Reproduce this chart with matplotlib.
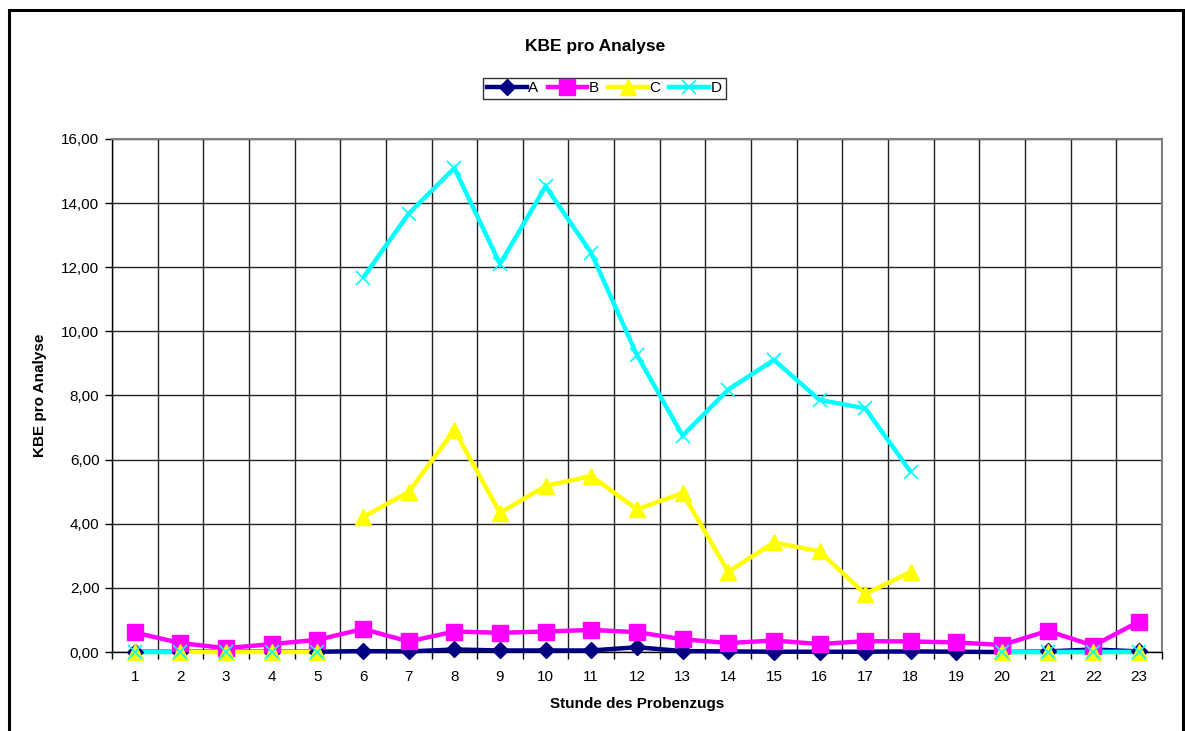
import numpy as np
import matplotlib.pyplot as plt
from matplotlib.patches import Rectangle

plt.rcParams['font.family'] = ['Liberation Sans', 'DejaVu Sans']

# Stunden 1..23, fehlende Werte als NaN
hours = list(range(1, 24))
nan = np.nan

A = [0.01, 0.01, 0.01, 0.01, 0.01, 0.03, 0.02, 0.08, 0.05, 0.05, 0.05, 0.15,
     0.03, 0.02, 0.01, 0.01, 0.01, 0.02, 0.01, 0.00, 0.02, 0.08, 0.02]
B = [0.61, 0.28, 0.12, 0.25, 0.38, 0.72, 0.33, 0.64, 0.60, 0.64, 0.69, 0.62,
     0.40, 0.28, 0.36, 0.25, 0.34, 0.33, 0.30, 0.22, 0.66, 0.20, 0.95]
C = [0.0, 0.0, 0.0, 0.0, 0.0, 4.21, 4.99, 6.92, 4.34, 5.18, 5.49, 4.45,
     4.96, 2.50, 3.42, 3.14, 1.81, 2.50, nan, 0.0, 0.0, 0.0, 0.0]
D = [0.0, 0.0, 0.0, 0.0, 0.0, 11.67, 13.67, 15.09, 12.10, 14.52, 12.44, 9.26,
     6.75, 8.18, 9.11, 7.86, 7.60, 5.61, nan, 0.0, 0.0, 0.0, 0.0]

# Stunden, nach denen die Linie unterbrochen ist
A_breaks = []
B_breaks = []
C_breaks = [5]
D_breaks = [2, 3, 4, 5]

yticks = np.arange(0, 17, 2)

fig = plt.figure(figsize=(11.85, 7.31), dpi=100)
ax = fig.add_axes([0.0945, 0.108, 0.886, 0.702])

x = np.array(hours, dtype=float)


def draw(vals, breaks, color, marker, ms, mew=1.0):
    v = np.array(vals, dtype=float)
    # Linie abschnittsweise zwischen den Unterbrechungen zeichnen
    edges = [0] + [hours.index(b) + 1 for b in breaks] + [len(v)]
    for a, b in zip(edges[:-1], edges[1:]):
        if b - a > 1:
            ax.plot(x[a:b], v[a:b], color=color, lw=3.2, solid_capstyle='butt',
                    solid_joinstyle='miter', zorder=3, clip_on=False)
    ax.plot(x, v, ls='none', marker=marker, ms=ms, color=color,
            mfc=color, mec=color, mew=mew, zorder=4, clip_on=False)


draw(A, A_breaks, '#000080', 'D', 8)
draw(B, B_breaks, '#FF00FF', 's', 11)
draw(C, C_breaks, '#FFFF00', '^', 11)
draw(D, D_breaks, '#00FFFF', 'x', 10, mew=1.2)

ax.set_xlim(0.5, 23.5)
ax.set_ylim(0, 16)
ax.set_yticks(yticks)
ax.set_yticklabels([f'{t:.2f}'.replace('.', ',') for t in yticks], fontsize=11)
ax.set_xticks(hours)
ax.set_xticklabels([str(h) for h in hours], fontsize=11)
ax.tick_params(axis='x', length=0, pad=13)
ax.tick_params(axis='y', length=5, width=1, direction='out', pad=4)
ax.set_xticks(np.arange(0.5, 24, 1), minor=True)
ax.tick_params(axis='x', which='minor', length=5, width=1, direction='out')

ax.grid(True, axis='y', which='major', color='#222222', lw=1)
ax.grid(True, axis='x', which='minor', color='#222222', lw=1)
ax.set_axisbelow(True)
for s in ['top', 'right']:
    ax.spines[s].set_color('#808080')
    ax.spines[s].set_linewidth(1.5)
for s in ['left', 'bottom']:
    ax.spines[s].set_color('black')
    ax.spines[s].set_linewidth(1)
    ax.spines[s].set_zorder(2.5)

ax.set_ylabel('KBE pro Analyse', fontsize=11, fontweight='bold', labelpad=10)
ax.set_xlabel('Stunde des Probenzugs', fontsize=11, fontweight='bold', labelpad=9)

fig.text(0.502, 0.937, 'KBE pro Analyse', ha='center', va='center',
         fontsize=12.5, fontweight='bold')

handles = [
    plt.Line2D([], [], color='#000080', lw=3.2, marker='D', ms=8),
    plt.Line2D([], [], color='#FF00FF', lw=3.2, marker='s', ms=11),
    plt.Line2D([], [], color='#FFFF00', lw=3.2, marker='^', ms=11),
    plt.Line2D([], [], color='#00FFFF', lw=3.2, marker='x', ms=10, mew=1.2),
]
leg = fig.legend(handles, ['A', 'B', 'C', 'D'], loc='center',
                 bbox_to_anchor=(0.51, 0.879), ncol=4, frameon=True,
                 fancybox=False, fontsize=11, handlelength=2.6,
                 handletextpad=0.1, columnspacing=0.6, borderpad=0.25,
                 edgecolor='black')
leg.get_frame().set_linewidth(1)

# Rahmen um das gesamte Diagramm
fig.patches.append(Rectangle((0.0076, -0.05), 0.9907, 1.037,
                             transform=fig.transFigure, fill=False,
                             edgecolor='black', lw=2.2))

fig.savefig('out.png', dpi=100)
